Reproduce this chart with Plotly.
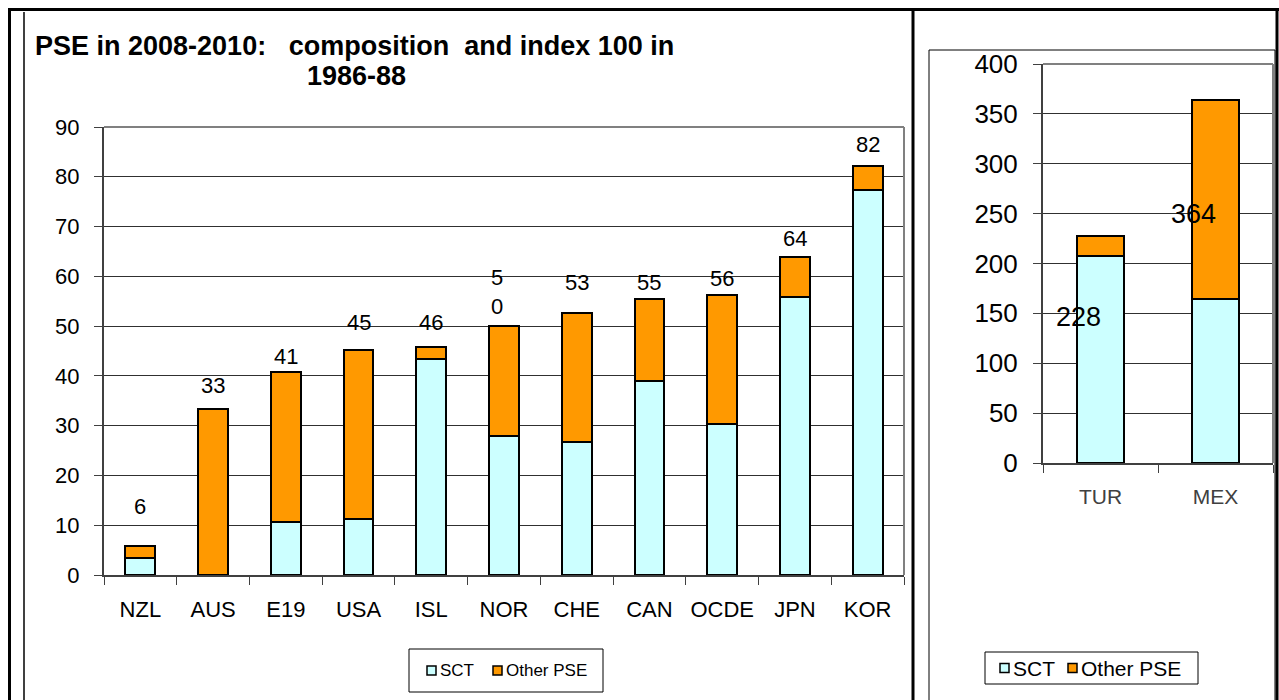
import plotly.graph_objs as go

# left panel: PSE 2008-2010, index 100 in 1986-88
countries = ['NZL', 'AUS', 'E19', 'USA', 'ISL', 'NOR', 'CHE', 'CAN', 'OCDE', 'JPN', 'KOR']
sct = [3.5, 0.0, 10.7, 11.2, 43.3, 27.9, 26.7, 39.0, 30.3, 55.9, 77.3]
other_pse = [2.3, 33.3, 30.0, 34.0, 2.5, 22.1, 26.0, 16.4, 25.9, 8.0, 4.9]
totals = ['6', '33', '41', '45', '46', '5<br>0', '53', '55', '56', '64', '82']

# right panel: the two outliers
countries_r = ['TUR', 'MEX']
sct_r = [208, 164]
other_pse_r = [20, 200]
totals_r = ['228', '364']

W, H = 1279, 700
FONT = 'Arial, Liberation Sans, sans-serif'
SCT_COLOR = '#CCFFFF'
OTHER_COLOR = '#FF9900'


def px(x):
    return x / W


def py(y):
    return 1 - y / H


fig = go.Figure()

bar_line = dict(color='black', width=2)
fig.add_trace(go.Bar(x=countries, y=sct, name='SCT', marker=dict(color=SCT_COLOR, line=bar_line),
                     xaxis='x', yaxis='y'))
fig.add_trace(go.Bar(x=countries, y=other_pse, name='Other PSE', marker=dict(color=OTHER_COLOR, line=bar_line),
                     xaxis='x', yaxis='y'))
fig.add_trace(go.Bar(x=countries_r, y=sct_r, name='SCT', marker=dict(color=SCT_COLOR, line=bar_line),
                     xaxis='x2', yaxis='y2'))
fig.add_trace(go.Bar(x=countries_r, y=other_pse_r, name='Other PSE', marker=dict(color=OTHER_COLOR, line=bar_line),
                     xaxis='x2', yaxis='y2'))

annotations = []
# total labels above the left bars (Excel placed them by hand, so the lift varies)
label_lift = [40, 24, 16, 28, 25, 34, 30, 17, 17, 18, 21]
for c, s, o, t, lift in zip(countries, sct, other_pse, totals, label_lift):
    annotations.append(dict(x=c, y=s + o, xref='x', yref='y', text=t, showarrow=False,
                            yshift=lift, xshift=-7 if '<br>' in t else 0,
                            font=dict(family=FONT, size=22, color='black')))

# right labels sit inside the bars, left of centre
for c, t, yv in zip(countries_r, totals_r, [146, 250]):
    annotations.append(dict(x=c, y=yv, xref='x2', yref='y2', text=t, showarrow=False, xshift=-22,
                            font=dict(family=FONT, size=27, color='black')))

annotations.append(dict(x=px(33), y=py(46), xref='paper', yref='paper', xanchor='left', yanchor='middle',
                        text='<b>PSE in 2008-2010:&nbsp;&nbsp; composition&nbsp; and index 100 in</b>',
                        showarrow=False, font=dict(family=FONT, size=27, color='black')))
annotations.append(dict(x=px(356), y=py(76), xref='paper', yref='paper', xanchor='center', yanchor='middle',
                        text='<b>1986-88</b>', showarrow=False,
                        font=dict(family=FONT, size=27, color='black')))

shapes = []
thick = dict(color='black', width=3)
for x in [9.5, 913, 1277]:
    shapes.append(dict(type='line', xref='paper', yref='paper', x0=px(x), x1=px(x), y0=py(8), y1=py(702), line=thick))
shapes.append(dict(type='line', xref='paper', yref='paper', x0=px(8), x1=px(1279), y0=py(9.5), y1=py(9.5), line=thick))
shapes.append(dict(type='line', xref='paper', yref='paper', x0=px(24), x1=px(24), y0=py(12), y1=py(702),
                   line=dict(color='black', width=1.5)))
shapes.append(dict(type='rect', xref='paper', yref='paper', x0=px(929), x1=px(1275), y0=py(50), y1=py(703),
                   line=dict(color='black', width=1)))
# grey plot-area border on top and right
for xa, ya in [('x', 'y'), ('x2', 'y2')]:
    shapes.append(dict(type='line', xref=xa + ' domain', yref=ya + ' domain', x0=0, x1=1, y0=1, y1=1,
                       line=dict(color='#808080', width=2)))
    shapes.append(dict(type='line', xref=xa + ' domain', yref=ya + ' domain', x0=1, x1=1, y0=0, y1=1,
                       line=dict(color='#808080', width=2)))


# Excel-style legend boxes: tight square swatches next to the text
def add_legend(box, items, size):
    x0, y0, x1, y1 = box
    shapes.append(dict(type='rect', xref='paper', yref='paper', x0=px(x0), x1=px(x1), y0=py(y0), y1=py(y1),
                       line=dict(color='black', width=1), fillcolor='white', layer='above'))
    yc = (y0 + y1) / 2
    for sx, name, color in items:
        shapes.append(dict(type='rect', xref='paper', yref='paper', x0=px(sx), x1=px(sx + 9),
                           y0=py(yc - 4.5), y1=py(yc + 4.5), fillcolor=color,
                           line=dict(color='black', width=1.5), layer='above'))
        annotations.append(dict(x=px(sx + 11), y=py(yc), xref='paper', yref='paper', xanchor='left',
                                yanchor='middle', text=name, showarrow=False,
                                font=dict(family=FONT, size=size, color='black')))


add_legend((409, 649, 603, 692), [(427, 'SCT', SCT_COLOR), (493, 'Other PSE', OTHER_COLOR)], 17)
add_legend((985, 652, 1198, 684), [(1000, 'SCT', SCT_COLOR), (1068, 'Other PSE', OTHER_COLOR)], 21)

xaxis_common = dict(type='category', tickson='boundaries', ticks='outside', ticklen=8, tickcolor='#404040',
                    showline=True, linecolor='#404040', linewidth=2, showgrid=False, fixedrange=True,
                    automargin=False)
yaxis_common = dict(ticks='outside', ticklen=8, tickcolor='#404040', showline=True, linecolor='#404040',
                    linewidth=2, showgrid=True, gridcolor='#303030', gridwidth=1, zeroline=False,
                    ticklabelstandoff=10, fixedrange=True, automargin=False)

fig.update_layout(
    width=W, height=H,
    margin=dict(l=0, r=0, t=0, b=0, autoexpand=False),
    paper_bgcolor='white', plot_bgcolor='white',
    barmode='stack', bargap=0.59,
    font=dict(family=FONT, color='black'),
    xaxis=dict(xaxis_common, domain=[px(104), px(904)], anchor='y',
               tickfont=dict(family=FONT, size=22, color='black'), ticklabelstandoff=14),
    yaxis=dict(yaxis_common, domain=[py(575), py(127)], anchor='x', range=[0, 90], dtick=10,
               tickfont=dict(family=FONT, size=22, color='black')),
    xaxis2=dict(xaxis_common, domain=[px(1043), px(1273)], anchor='y2',
                tickfont=dict(family=FONT, size=21, color='#404040'), ticklabelstandoff=14),
    yaxis2=dict(yaxis_common, domain=[py(463), py(64)], anchor='x2', range=[0, 400], dtick=50,
                tickfont=dict(family=FONT, size=26, color='black')),
    annotations=annotations,
    shapes=shapes,
    showlegend=False,
)

# drop the default body margin so the 1279x700 figure fills the window exactly
fig.write_html("out.html", config={'displayModeBar': False},
               post_script="document.body.style.margin='0';document.body.style.overflow='hidden';")
